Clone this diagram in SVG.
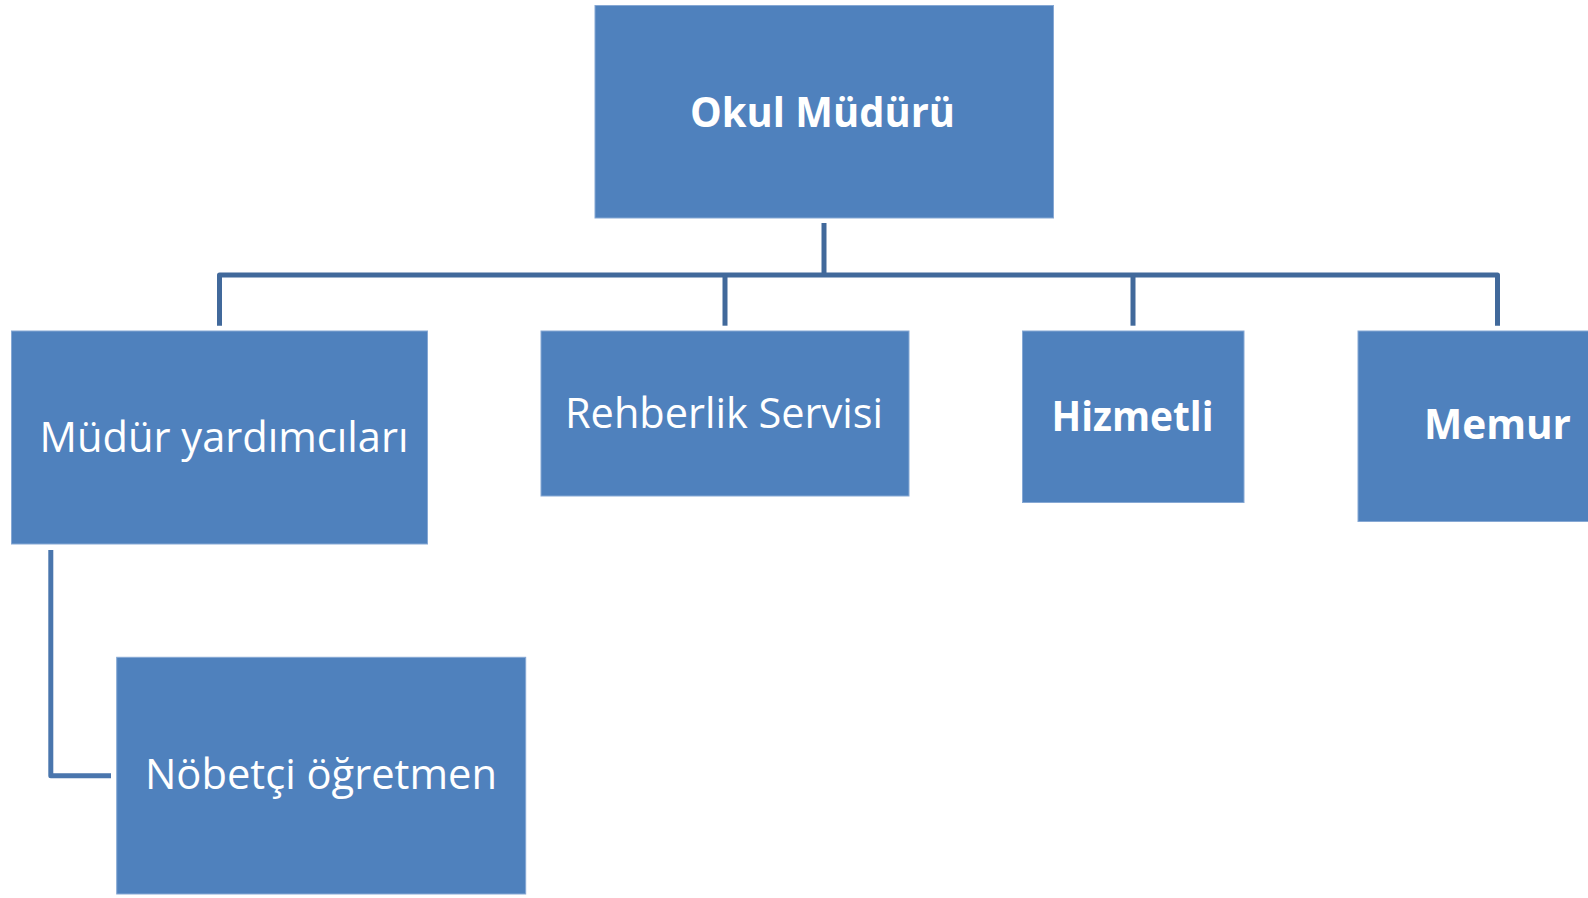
<svg xmlns="http://www.w3.org/2000/svg" width="1588" height="898" viewBox="0 0 1588 898">
  <style>
    .box { fill: #4F81BD; stroke: #86A8D4; stroke-width: 1; }
    .lbl { fill: #FFFFFF; font-family: "Open Sans", "Noto Sans", "DejaVu Sans", sans-serif; font-size: 42px; }
    .b { font-weight: bold; }
    .conn { fill: none; stroke: #41699B; stroke-width: 5; stroke-linejoin: round; }
    .conn2 { fill: none; stroke: #4A76AD; stroke-width: 5; stroke-linejoin: round; }
  </style>
  <rect width="1588" height="898" fill="#FFFFFF"/>
  <g id="connectors">
    <path class="conn" d="M824 223 V275"/>
    <path class="conn" d="M219.5 325.7 V275 H1497.5 V325.7"/>
    <path class="conn" d="M725 275 V325.7"/>
    <path class="conn" d="M1133 275 V325.7"/>
    <path class="conn2" d="M50.8 550 V775.8 H111"/>
  </g>
  <g id="okul-muduru">
    <rect class="box" x="595" y="5.5" width="458.5" height="212.5"/>
    <text class="lbl b" x="690" y="126.7" textLength="265" lengthAdjust="spacingAndGlyphs">Okul Müdürü</text>
  </g>
  <g id="mudur-yardimcilari">
    <rect class="box" x="11.5" y="331" width="416" height="213"/>
    <text class="lbl" x="39.5" y="452.3" textLength="369" lengthAdjust="spacingAndGlyphs">Müdür yardımcıları</text>
  </g>
  <g id="rehberlik-servisi">
    <rect class="box" x="541" y="331" width="368" height="165"/>
    <text class="lbl" x="565" y="428.3" textLength="318" lengthAdjust="spacingAndGlyphs">Rehberlik Servisi</text>
  </g>
  <g id="hizmetli">
    <rect class="box" x="1022.5" y="331" width="221.5" height="171.5"/>
    <text class="lbl b" x="1051.5" y="430.7" textLength="162" lengthAdjust="spacingAndGlyphs">Hizmetli</text>
  </g>
  <g id="memur">
    <rect class="box" x="1358" y="331" width="240" height="190.5"/>
    <text class="lbl b" x="1424" y="439.3" textLength="147" lengthAdjust="spacingAndGlyphs">Memur</text>
  </g>
  <g id="nobetci-ogretmen">
    <rect class="box" x="116.7" y="657.3" width="409" height="236.7"/>
    <text class="lbl" x="145" y="789.3" textLength="352" lengthAdjust="spacingAndGlyphs">Nöbetçi öğretmen</text>
  </g>
</svg>
